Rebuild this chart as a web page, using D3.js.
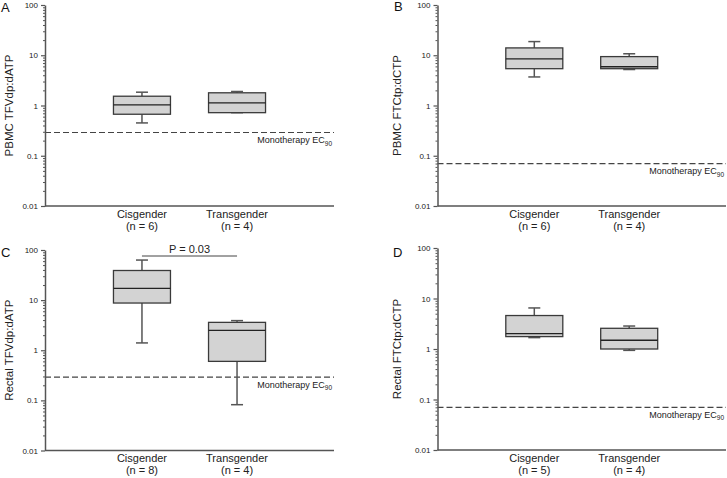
<!DOCTYPE html>
<html>
<head>
<meta charset="utf-8">
<script src="https://cdn.jsdelivr.net/npm/d3@7"></script>
<style>
  body { margin: 0; background: #fff; }
  svg { display: block; font-family: "Liberation Sans", Arial, sans-serif; }
</style>
</head>
<body>
<svg id="chart" width="727" height="478"></svg>
<script>
// ---------------- data ----------------
const panelLetters = ["A", "B", "C", "D"];
const yTitles = ["PBMC TFVdp:dATP", "PBMC FTCtp:dCTP", "Rectal TFVdp:dATP", "Rectal FTCtp:dCTP"];
const categories = ["Cisgender", "Transgender"];
const nLabels = [
  ["(n = 6)", "(n = 4)"],
  ["(n = 6)", "(n = 4)"],
  ["(n = 8)", "(n = 4)"],
  ["(n = 5)", "(n = 4)"]
];
const yTickValues = [0.01, 0.1, 1, 10, 100];
// box stats: [whisker low, Q1, median, Q3, whisker high]
const pbmcTFV_cis   = [0.45, 0.67, 1.03, 1.53, 1.84];
const pbmcTFV_trans = [0.72, 0.72, 1.13, 1.79, 1.90];
const pbmcFTC_cis   = [3.7, 5.4, 8.5, 14.0, 18.7];
const pbmcFTC_trans = [5.2, 5.4, 5.9, 9.4, 10.7];
const rectalTFV_cis   = [1.4, 8.75, 17.2, 39, 63];
const rectalTFV_trans = [0.082, 0.6, 2.5, 3.6, 3.9];
const rectalFTC_cis   = [1.68, 1.76, 2.02, 4.6, 6.5];
const rectalFTC_trans = [0.94, 1.0, 1.49, 2.57, 2.85];
const ec90Values = [0.29, 0.07, 0.29, 0.07];
const pValueLabel = "P = 0.03";

const panelBoxes = [
  [pbmcTFV_cis, pbmcTFV_trans],
  [pbmcFTC_cis, pbmcFTC_trans],
  [rectalTFV_cis, rectalTFV_trans],
  [rectalFTC_cis, rectalFTC_trans]
];

// ---------------- layout ----------------
const frames = [
  { x0: 45,    x1: 334, y0: 5,   y1: 206 },
  { x0: 437.5, x1: 726, y0: 5,   y1: 206 },
  { x0: 45,    x1: 334, y0: 250, y1: 450.5 },
  { x0: 437.5, x1: 726, y0: 248, y1: 450 }
];
const titleX = [13, 401, 13, 401];
const letterPos = [[1, 12], [394, 11], [1, 257], [393, 257]];

const svg = d3.select("#chart");
const axisColor = "#555";

const minorVals = [];
for (let e = -2; e < 2; e++) {
  for (let m = 2; m <= 9; m++) minorVals.push(m * Math.pow(10, e));
}

frames.forEach((f, i) => {
  const g = svg.append("g");
  const y = d3.scaleLog().domain([0.01, 100]).range([f.y1, f.y0]);
  const x = d3.scalePoint().domain(categories).range([f.x0, f.x1]).padding(1.02);
  const boxW = 57, capW = 12;

  // EC90 dashed line
  g.append("line")
    .attr("x1", f.x0).attr("x2", f.x1)
    .attr("y1", y(ec90Values[i])).attr("y2", y(ec90Values[i]))
    .attr("stroke", "#444").attr("stroke-width", 1.2)
    .attr("stroke-dasharray", "6,3");
  const ecText = g.append("text")
    .attr("x", f.x1 - 2).attr("y", y(ec90Values[i]) + 10.5)
    .attr("text-anchor", "end")
    .attr("font-size", 9).attr("fill", "#222");
  ecText.append("tspan").text("Monotherapy EC");
  ecText.append("tspan").attr("font-size", 6.5).attr("dy", 2.5).text("90");

  // boxes
  panelBoxes[i].forEach((b, j) => {
    const cx = x(categories[j]);
    const bg = g.append("g");
    // whiskers
    bg.append("line").attr("x1", cx).attr("x2", cx)
      .attr("y1", y(b[4])).attr("y2", y(b[3]))
      .attr("stroke", "#555").attr("stroke-width", 1.5);
    bg.append("line").attr("x1", cx).attr("x2", cx)
      .attr("y1", y(b[1])).attr("y2", y(b[0]))
      .attr("stroke", "#555").attr("stroke-width", 1.5);
    bg.append("line").attr("x1", cx - capW / 2).attr("x2", cx + capW / 2)
      .attr("y1", y(b[4])).attr("y2", y(b[4]))
      .attr("stroke", "#555").attr("stroke-width", 1.5);
    bg.append("line").attr("x1", cx - capW / 2).attr("x2", cx + capW / 2)
      .attr("y1", y(b[0])).attr("y2", y(b[0]))
      .attr("stroke", "#555").attr("stroke-width", 1.5);
    // box
    bg.append("rect")
      .attr("x", cx - boxW / 2).attr("width", boxW)
      .attr("y", y(b[3])).attr("height", y(b[1]) - y(b[3]))
      .attr("fill", "#d3d3d3").attr("stroke", "#3a3a3a").attr("stroke-width", 1.3);
    // median
    bg.append("line").attr("x1", cx - boxW / 2).attr("x2", cx + boxW / 2)
      .attr("y1", y(b[2])).attr("y2", y(b[2]))
      .attr("stroke", "#222").attr("stroke-width", 1.3);
    // category labels
    g.append("text").attr("x", cx).attr("y", f.y1 + 11.5)
      .attr("text-anchor", "middle").attr("font-size", 11).attr("fill", "#222")
      .text(categories[j]);
    g.append("text").attr("x", cx).attr("y", f.y1 + 23.5)
      .attr("text-anchor", "middle").attr("font-size", 11).attr("fill", "#222")
      .text(nLabels[i][j]);
  });

  // P-value bracket in panel C
  if (i === 2) {
    const yP = f.y0 + 6;
    g.append("line").attr("x1", x(categories[0])).attr("x2", x(categories[1]))
      .attr("y1", yP).attr("y2", yP).attr("stroke", "#444").attr("stroke-width", 1);
    g.append("text")
      .attr("x", (x(categories[0]) + x(categories[1])) / 2)
      .attr("y", yP - 3.5).attr("text-anchor", "middle")
      .attr("font-size", 11).attr("fill", "#222").text(pValueLabel);
  }

  // minor ticks
  const minor = g.append("g").attr("transform", `translate(${f.x0},0)`)
    .call(d3.axisLeft(y).tickValues(minorVals).tickSize(2).tickFormat(""));
  minor.select(".domain").remove();
  minor.selectAll("line").attr("stroke", axisColor);

  // major axis
  const ax = g.append("g").attr("transform", `translate(${f.x0},0)`)
    .call(d3.axisLeft(y).tickValues(yTickValues).tickSize(4).tickPadding(3)
      .tickSizeOuter(0).tickFormat(d => String(d)));
  ax.select(".domain").attr("stroke", axisColor).attr("stroke-width", 1.5);
  ax.selectAll(".tick line").attr("stroke", axisColor).attr("stroke-width", 1.2);
  ax.selectAll(".tick text").attr("font-size", 8).attr("fill", "#222")
    .attr("font-family", "Liberation Sans, Arial, sans-serif");

  // x baseline
  g.append("line").attr("x1", f.x0).attr("x2", f.x1)
    .attr("y1", f.y1).attr("y2", f.y1)
    .attr("stroke", axisColor).attr("stroke-width", 1.5);

  // y title
  g.append("text")
    .attr("transform", `translate(${titleX[i]},${(f.y0 + f.y1) / 2}) rotate(-90)`)
    .attr("text-anchor", "middle").attr("font-size", 11.5).attr("fill", "#222")
    .text(yTitles[i]);

  // panel letter
  svg.append("text").attr("x", letterPos[i][0]).attr("y", letterPos[i][1])
    .attr("font-size", 13).attr("fill", "#111").text(panelLetters[i]);
});
</script>
</body>
</html>
